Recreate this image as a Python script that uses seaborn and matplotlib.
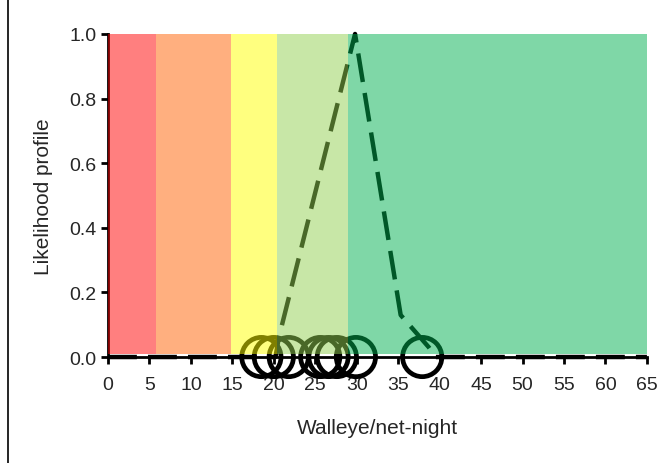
import numpy as np
import pandas as pd
import matplotlib
matplotlib.use('Agg')
import matplotlib.pyplot as plt
from matplotlib.lines import Line2D
import seaborn as sns

# likelihood profile (dashed line)
profile_x = [0, 10, 20.2, 20.6, 29.8, 35.3, 38.7, 39.5, 50, 65]
profile_y = [0, 0, 0, 0.06, 1.0, 0.13, 0.03, 0, 0, 0]

# observed catch rates (circles on the baseline)
obs_x = [18.5, 20.0, 21.8, 25.6, 26.6, 27.6, 29.9, 37.9]
obs_y = [0, 0, 0, 0, 0, 0, 0, 0]

# status bands
band_edges = [0, 5.8, 14.8, 20.4, 29.0, 65]
band_colors = ['#ff0000', '#ff6000', '#ffff00', '#92d050', '#00b050']

x_ticks = list(range(0, 70, 5))
y_ticks = [0.0, 0.2, 0.4, 0.6, 0.8, 1.0]

sns.set_style('ticks')
plt.rcParams['font.family'] = ['Liberation Sans', 'DejaVu Sans']

fig = plt.figure(figsize=(6.69, 4.64), dpi=100)
ax = fig.add_axes([0.1614, 0.2284, 0.8056, 0.6962])

prof = pd.DataFrame({'x': profile_x, 'y': profile_y})
obs = pd.DataFrame({'x': obs_x, 'y': obs_y})

sns.lineplot(x='x', y='y', data=prof, ax=ax, color='black', linewidth=3.2,
             dashes=False, zorder=3)
ax.lines[0].set_dashes((6.5, 2.5))
ax.lines[0].set_clip_on(False)

sns.scatterplot(x='x', y='y', data=obs, ax=ax, s=800, facecolor='none',
                edgecolor='black', linewidth=3.4, zorder=4)
for c in ax.collections:
    c.set_clip_on(False)

for i, col in enumerate(band_colors):
    ax.axvspan(band_edges[i], band_edges[i + 1], ymin=0.008, ymax=1.0,
               color=col, alpha=0.5, linewidth=0, zorder=5)

ax.set_xlim(0, 65)
ax.set_ylim(0, 1)
ax.set_xticks(x_ticks)
ax.set_yticks(y_ticks)
ax.set_yticklabels([f'{v:.1f}' for v in y_ticks])
ax.tick_params(labelsize=14, colors='#262626', length=5, width=2, pad=3)
ax.tick_params(axis='x', pad=9)
ax.tick_params(axis='both', color='black')
for s in ['top', 'right']:
    ax.spines[s].set_visible(False)
for s in ['left', 'bottom']:
    ax.spines[s].set_color('black')
    ax.spines[s].set_linewidth(2)
    ax.spines[s].set_zorder(2)

ax.set_xlabel('Walleye/net-night', fontsize=15, color='#262626', labelpad=18)
ax.set_ylabel('Likelihood profile', fontsize=15, color='#262626', labelpad=12)

fig.add_artist(Line2D([0.012, 0.012], [0, 1], color='black', linewidth=1.2))

fig.savefig('out.png', dpi=100)
